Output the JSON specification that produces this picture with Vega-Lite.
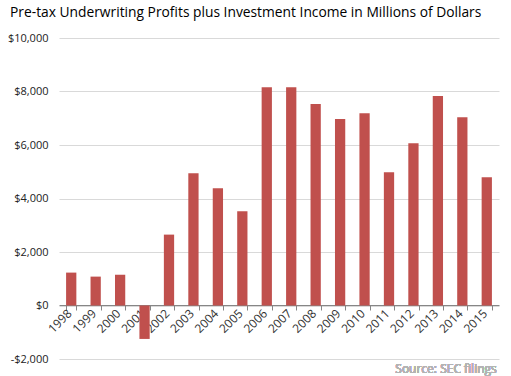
{
  "$schema": "https://vega.github.io/schema/vega-lite/v6.json",
  "width": 440,
  "height": 321,
  "autosize": {"type": "none"},
  "padding": {"left": 59, "top": 38, "right": 12, "bottom": 17},
  "background": "white",
  "title": {
    "text": "Pre-tax Underwriting Profits plus Investment Income in Millions of Dollars",
    "anchor": "start",
    "frame": "group",
    "dx": -49,
    "offset": 12,
    "font": "Open Sans",
    "fontSize": 13.8,
    "fontWeight": "normal",
    "color": "#000000"
  },
  "config": {
    "view": {"stroke": null},
    "font": "Open Sans"
  },
  "data": {
    "values": [
      {"year": "1998", "value": 1230},
      {"year": "1999", "value": 1080},
      {"year": "2000", "value": 1150},
      {"year": "2001", "value": -1250},
      {"year": "2002", "value": 2650},
      {"year": "2003", "value": 4940},
      {"year": "2004", "value": 4380},
      {"year": "2005", "value": 3520},
      {"year": "2006", "value": 8160},
      {"year": "2007", "value": 8160},
      {"year": "2008", "value": 7530},
      {"year": "2009", "value": 6970},
      {"year": "2010", "value": 7190},
      {"year": "2011", "value": 4980},
      {"year": "2012", "value": 6070},
      {"year": "2013", "value": 7830},
      {"year": "2014", "value": 7040},
      {"year": "2015", "value": 4790}
    ]
  },
  "layer": [
    {
      "mark": {"type": "bar", "color": "#C0504D"},
      "encoding": {
        "x": {
          "field": "year",
          "type": "ordinal",
          "scale": {"paddingInner": 0.58, "paddingOuter": 0.29},
          "axis": {
            "title": null,
            "offset": -54,
            "labelAngle": -45,
            "labelAlign": "right",
            "labelBaseline": "middle",
            "labelFontSize": 12,
            "labelColor": "#333333",
            "labelOffset": -2,
            "domainColor": "#868686",
            "tickColor": "#868686",
            "tickBand": "extent",
            "tickSize": 5,
            "grid": false,
            "labelPadding": 1
          }
        },
        "y": {
          "field": "value",
          "type": "quantitative",
          "scale": {"domain": [-2000, 10000], "nice": false},
          "axis": {
            "title": null,
            "values": [-2000, 0, 2000, 4000, 6000, 8000, 10000],
            "labelExpr": "(datum.value < 0 ? '-' : '') + '$' + format(abs(datum.value), ',')",
            "domain": false,
            "ticks": false,
            "gridColor": "#d9d9d9",
            "labelFontSize": 11,
            "labelColor": "#222222",
            "labelPadding": 11
          }
        }
      }
    },
    {
      "mark": {"type": "text", "align": "right", "baseline": "alphabetic", "dy": 14, "dx": 10, "fontSize": 12, "fontWeight": 400, "color": "#b3b3b3", "font": "Open Sans"},
      "encoding": {
        "x": {"datum": "2015", "type": "ordinal"},
        "y": {"datum": -2000, "type": "quantitative"},
        "text": {"value": "Source: SEC filings"}
      }
    }
  ]
}
